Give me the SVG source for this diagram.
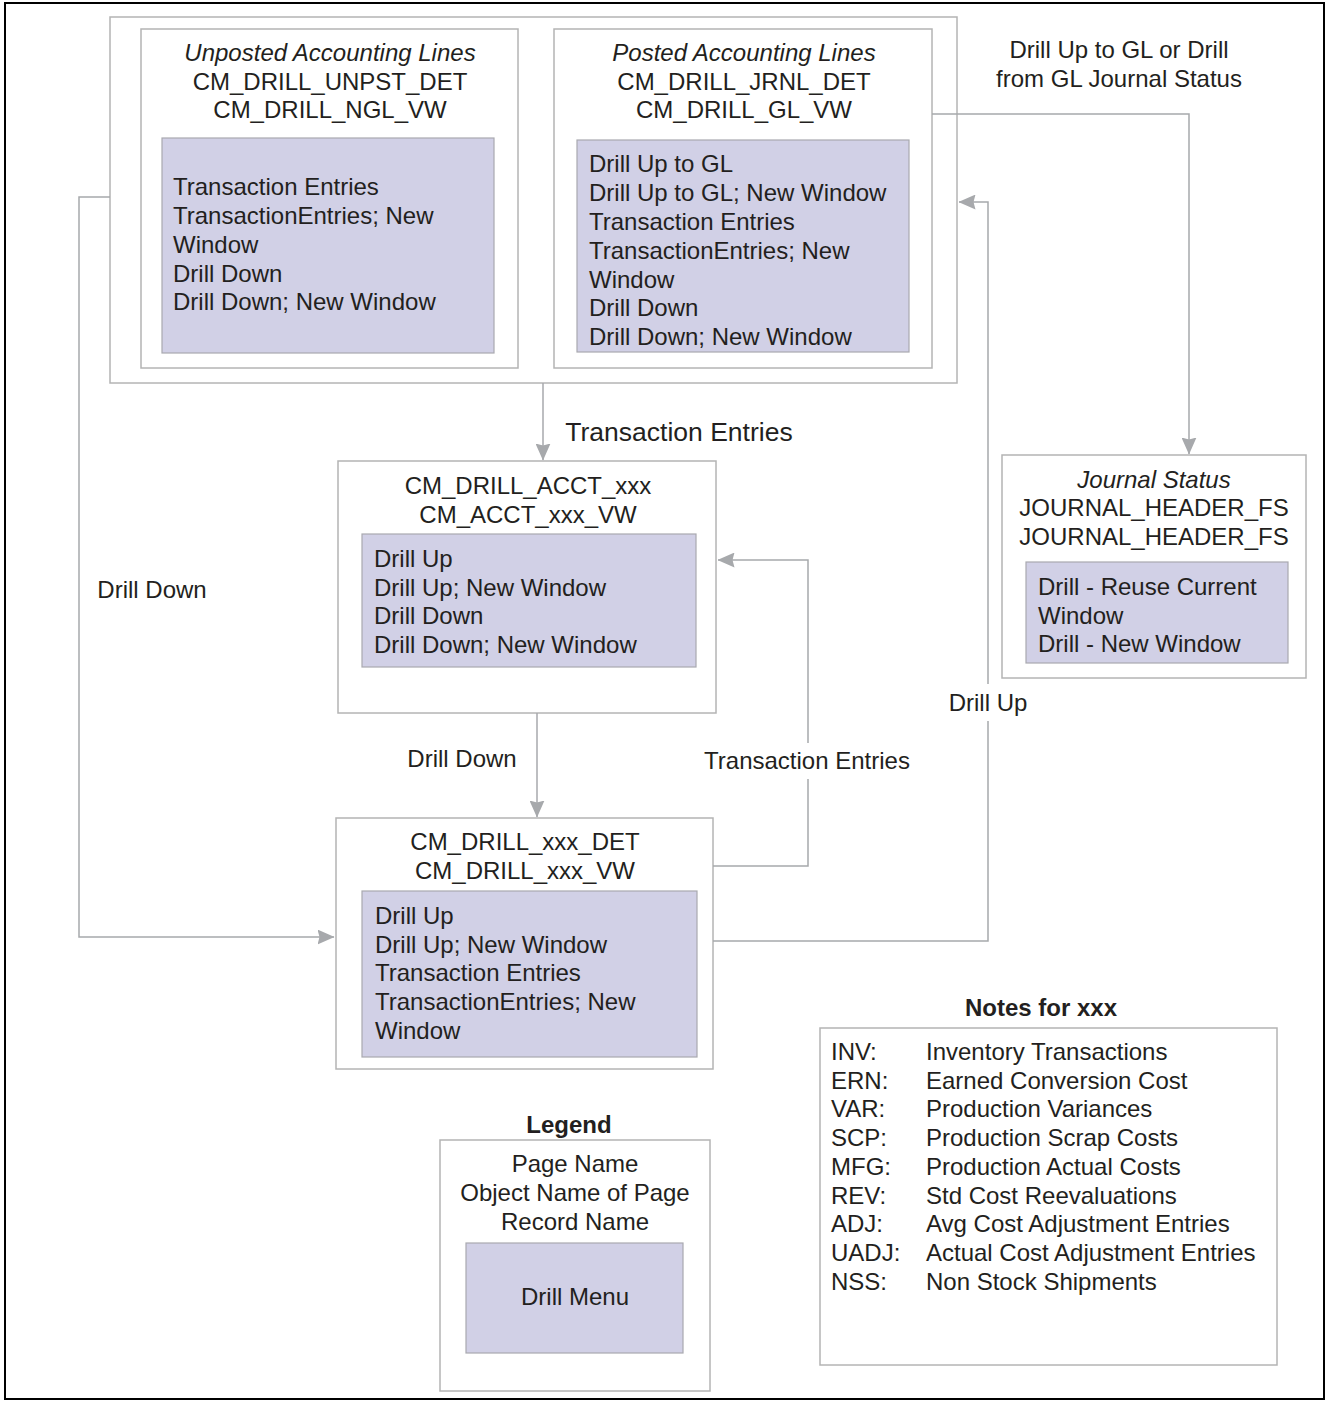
<svg xmlns="http://www.w3.org/2000/svg" width="1329" height="1402" viewBox="0 0 1329 1402">
  <style>
    text { font-family: "Liberation Sans", Arial, sans-serif; font-size: 24px; fill: #231f20; }
    .c { text-anchor: middle; }
    .it { font-style: italic; }
    .b { font-weight: bold; }
    .big { font-size: 26.5px; }
    .box { fill: #ffffff; stroke: #b4b4b4; stroke-width: 1.5; }
    .menu { fill: #d1d0e6; stroke: #a9a9b0; stroke-width: 1.2; }
    .wire { fill: none; stroke: #a7a9ac; stroke-width: 1.5; }
  </style>
  <defs>
    <marker id="arrow" viewBox="0 0 17 15" refX="16.5" refY="7.5" markerWidth="17" markerHeight="15" markerUnits="userSpaceOnUse" orient="auto">
      <path d="M0,0 L17,7.5 L0,15 L2,7.5 Z" fill="#a7a9ac"/>
    </marker>
  </defs>

  <!-- page frame -->
  <rect x="5" y="3" width="1319" height="1396" fill="#ffffff" stroke="#000000" stroke-width="2"/>

  <!-- accounting lines group -->
  <g id="accounting-lines">
    <rect class="box" x="110" y="17" width="847" height="366"/>
  </g>

  <g id="unposted">
    <rect class="box" x="141" y="29" width="377" height="339"/>
    <text x="330" y="61" class="c it">Unposted Accounting Lines</text>
    <text x="330" y="90" class="c">CM_DRILL_UNPST_DET</text>
    <text x="330" y="118" class="c">CM_DRILL_NGL_VW</text>
    <rect class="menu" x="162" y="138" width="332" height="215"/>
    <text x="173" y="195">Transaction Entries</text>
    <text x="173" y="224">TransactionEntries; New</text>
    <text x="173" y="253">Window</text>
    <text x="173" y="282">Drill Down</text>
    <text x="173" y="310">Drill Down; New Window</text>
  </g>

  <g id="posted">
    <rect class="box" x="554" y="29" width="378" height="339"/>
    <text x="744" y="61" class="c it">Posted Accounting Lines</text>
    <text x="744" y="90" class="c">CM_DRILL_JRNL_DET</text>
    <text x="744" y="118" class="c">CM_DRILL_GL_VW</text>
    <rect class="menu" x="577" y="140" width="332" height="212"/>
    <text x="589" y="172">Drill Up to GL</text>
    <text x="589" y="201">Drill Up to GL; New Window</text>
    <text x="589" y="230">Transaction Entries</text>
    <text x="589" y="259">TransactionEntries; New</text>
    <text x="589" y="288">Window</text>
    <text x="589" y="316">Drill Down</text>
    <text x="589" y="345">Drill Down; New Window</text>
  </g>

  <g id="acct">
    <rect class="box" x="338" y="461" width="378" height="252"/>
    <text x="528" y="494" class="c">CM_DRILL_ACCT_xxx</text>
    <text x="528" y="523" class="c">CM_ACCT_xxx_VW</text>
    <rect class="menu" x="362" y="534" width="334" height="133"/>
    <text x="374" y="567">Drill Up</text>
    <text x="374" y="596">Drill Up; New Window</text>
    <text x="374" y="624">Drill Down</text>
    <text x="374" y="653">Drill Down; New Window</text>
  </g>

  <g id="detail">
    <rect class="box" x="336" y="818" width="377" height="251"/>
    <text x="525" y="850" class="c">CM_DRILL_xxx_DET</text>
    <text x="525" y="879" class="c">CM_DRILL_xxx_VW</text>
    <rect class="menu" x="362" y="891" width="335" height="166"/>
    <text x="375" y="924">Drill Up</text>
    <text x="375" y="953">Drill Up; New Window</text>
    <text x="375" y="981">Transaction Entries</text>
    <text x="375" y="1010">TransactionEntries; New</text>
    <text x="375" y="1039">Window</text>
  </g>

  <g id="journal-status">
    <rect class="box" x="1002" y="455" width="304" height="223"/>
    <text x="1154" y="488" class="c it">Journal Status</text>
    <text x="1154" y="516" class="c">JOURNAL_HEADER_FS</text>
    <text x="1154" y="545" class="c">JOURNAL_HEADER_FS</text>
    <rect class="menu" x="1026" y="562" width="262" height="101"/>
    <text x="1038" y="595">Drill - Reuse Current</text>
    <text x="1038" y="624">Window</text>
    <text x="1038" y="652">Drill - New Window</text>
  </g>

  <g id="notes">
    <text x="1041" y="1016" class="c b">Notes for xxx</text>
    <rect class="box" x="820" y="1028" width="457" height="337"/>
    <text x="831" y="1060">INV:</text><text x="926" y="1060">Inventory Transactions</text>
    <text x="831" y="1089">ERN:</text><text x="926" y="1089">Earned Conversion Cost</text>
    <text x="831" y="1117">VAR:</text><text x="926" y="1117">Production Variances</text>
    <text x="831" y="1146">SCP:</text><text x="926" y="1146">Production Scrap Costs</text>
    <text x="831" y="1175">MFG:</text><text x="926" y="1175">Production Actual Costs</text>
    <text x="831" y="1204">REV:</text><text x="926" y="1204">Std Cost Reevaluations</text>
    <text x="831" y="1232">ADJ:</text><text x="926" y="1232">Avg Cost Adjustment Entries</text>
    <text x="831" y="1261">UADJ:</text><text x="926" y="1261">Actual Cost Adjustment Entries</text>
    <text x="831" y="1290">NSS:</text><text x="926" y="1290">Non Stock Shipments</text>
  </g>

  <g id="legend">
    <text x="569" y="1133" class="c b">Legend</text>
    <rect class="box" x="440" y="1140" width="270" height="251"/>
    <text x="575" y="1172" class="c">Page Name</text>
    <text x="575" y="1201" class="c">Object Name of Page</text>
    <text x="575" y="1230" class="c">Record Name</text>
    <rect class="menu" x="466" y="1243" width="217" height="110"/>
    <text x="575" y="1305" class="c">Drill Menu</text>
  </g>

  <!-- connectors, drawn over the boxes -->
  <g id="connectors">
    <polyline class="wire" points="110,197 79,197 79,937 334,937" marker-end="url(#arrow)"/>
    <line class="wire" x1="543" y1="383" x2="543" y2="460" marker-end="url(#arrow)"/>
    <line class="wire" x1="537" y1="713" x2="537" y2="817" marker-end="url(#arrow)"/>
    <polyline class="wire" points="713,866 808,866 808,779"/>
    <polyline class="wire" points="808,743 808,560 718,560" marker-end="url(#arrow)"/>
    <polyline class="wire" points="713,941 988,941 988,721"/>
    <polyline class="wire" points="988,684 988,202 959,202" marker-end="url(#arrow)"/>
    <polyline class="wire" points="932,114 1189,114 1189,454" marker-end="url(#arrow)"/>
    <text x="152" y="598" class="c">Drill Down</text>
    <text x="679" y="441" class="c big">Transaction Entries</text>
    <text x="462" y="767" class="c">Drill Down</text>
    <text x="807" y="769" class="c">Transaction Entries</text>
    <text x="988" y="711" class="c">Drill Up</text>
    <text x="1119" y="58" class="c">Drill Up to GL or Drill</text>
    <text x="1119" y="87" class="c">from GL Journal Status</text>
  </g>
</svg>
